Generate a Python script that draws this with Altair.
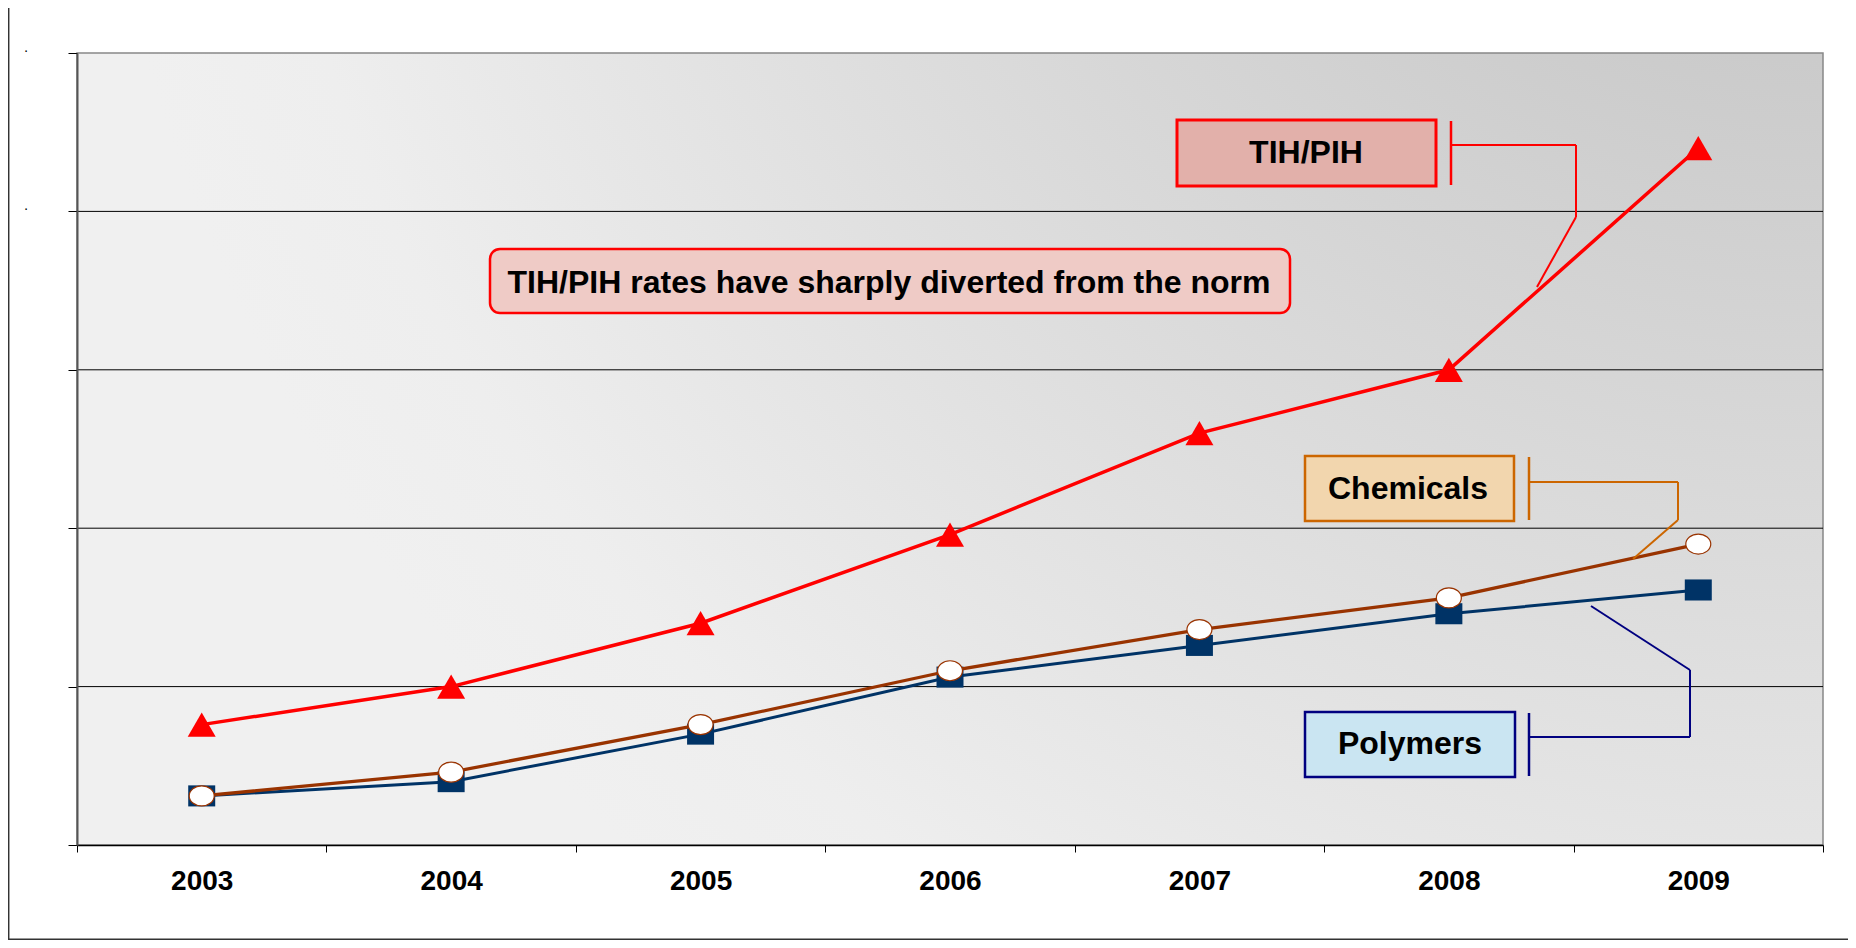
import altair as alt
import pandas as pd

# ---------------- data ----------------
years = ["2003", "2004", "2005", "2006", "2007", "2008", "2009"]
tih_pih = [0.76, 1.00, 1.40, 1.96, 2.60, 3.00, 4.40]
chemicals = [0.31, 0.46, 0.76, 1.10, 1.36, 1.56, 1.90]
polymers = [0.31, 0.40, 0.70, 1.06, 1.26, 1.46, 1.61]
grid_values = [1, 2, 3, 4]
y_ticks = [0, 1, 2, 3, 4, 5]

headline = "TIH/PIH rates have sharply diverted from the norm"
label_tih = "TIH/PIH"
label_chem = "Chemicals"
label_poly = "Polymers"

# ---------------- layout ----------------
W, H = 1746, 792
FONT = "Liberation Sans"

df = pd.DataFrame({
    "year": years * 3,
    "series": ["TIH/PIH"] * 7 + ["Chemicals"] * 7 + ["Polymers"] * 7,
    "value": tih_pih + chemicals + polymers,
})
grid_df = pd.DataFrame({"value": grid_values})
one = pd.DataFrame({"k": [0]})

x_enc = alt.X(
    "year:O",
    bandPosition=0.5,
    scale=alt.Scale(type="band", paddingInner=0, paddingOuter=0),
    axis=alt.Axis(
        title=None, labelAngle=0, tickBand="extent", zindex=1,
        domainColor="#000000", domainWidth=1.5,
        tickColor="#000000", tickSize=7, tickWidth=1,
        labelFont=FONT, labelFontSize=28, labelFontWeight="bold",
        labelColor="#000000", labelPadding=15,
    ),
)
y_enc = alt.Y(
    "value:Q",
    scale=alt.Scale(domain=[0, 5], nice=False, zero=True),
    axis=alt.Axis(
        title=None, values=y_ticks, grid=False, zindex=1,
        domainColor="#555555", domainWidth=2,
        tickColor="#000000", tickSize=9, tickWidth=1,
        labelExpr="datum.value >= 4 ? '\u00b7' : ''",
        labelFont=FONT, labelFontSize=14, labelColor="#000000",
        labelPadding=40, labelOffset=-3,
    ),
)

gradient = alt.RadialGradient(
    gradient="radial",
    x1=1, y1=0, r1=0, x2=1, y2=0, r2=1,
    stops=[
        alt.GradientStop(offset=0, color="#bcbcbc"),
        alt.GradientStop(offset=0.35, color="#cfcfcf"),
        alt.GradientStop(offset=0.65, color="#e0e0e0"),
        alt.GradientStop(offset=0.9, color="#eeeeee"),
        alt.GradientStop(offset=1, color="#f0f0f0"),
    ],
)

background = alt.Chart(one).mark_rect(
    fill=gradient, stroke="#888888", strokeWidth=1.5
).encode(x=alt.value(0), x2=alt.value(W), y=alt.value(0), y2=alt.value(H))

gridlines = alt.Chart(grid_df).mark_rule(color="#000000", strokeWidth=1).encode(y=y_enc)


def series_layers(name, color, width, shape, size, fill, stroke, sw):
    base = alt.Chart(df).transform_filter(alt.datum.series == name)
    line = base.mark_line(color=color, strokeWidth=width).encode(x=x_enc, y=y_enc)
    pts = base.mark_point(
        shape=shape, size=size, filled=True, fill=fill, stroke=stroke,
        strokeWidth=sw, opacity=1,
    ).encode(x=x_enc, y=y_enc)
    return [line, pts]


ellipse = "M-1,0A1,0.8,0,1,0,1,0A1,0.8,0,1,0,-1,0Z"
rect_shape = "M-1,-0.78L1,-0.78L1,0.78L-1,0.78Z"

poly_layers = series_layers("Polymers", "#003366", 3, rect_shape, 729, "#003366", "#003366", 0)
chem_layers = series_layers("Chemicals", "#993300", 3.3, ellipse, 625, "#ffffff", "#993300", 1.2)
tih_layers = series_layers("TIH/PIH", "#ff0000", 3.5, "triangle-up", 784, "#ff0000", "#ff0000", 0)


def seg(x1, y1, x2, y2, color, w=2):
    return alt.Chart(one).mark_rule(color=color, strokeWidth=w).encode(
        x=alt.value(x1), y=alt.value(y1), x2=alt.value(x2), y2=alt.value(y2)
    )


def box(x1, y1, x2, y2, fill, stroke, sw=2.5, radius=0):
    return alt.Chart(one).mark_rect(
        fill=fill, stroke=stroke, strokeWidth=sw, cornerRadius=radius
    ).encode(x=alt.value(x1), x2=alt.value(x2), y=alt.value(y1), y2=alt.value(y2))


def label(x, y, text, size=32):
    return alt.Chart(one).mark_text(
        text=text, font=FONT, fontSize=size, fontWeight="bold", color="#000000",
        align="center", baseline="alphabetic",
    ).encode(x=alt.value(x), y=alt.value(y))


RED = "#ff0000"
ORANGE = "#cc6600"
NAVY = "#000080"

annotations = [
    # headline box
    box(413, 196, 1213, 260, "#efcbc6", RED, 2.5, 10),
    label(812, 240, headline, 32),
    # TIH/PIH label + callout
    box(1100, 67, 1359, 133, "#e2b0aa", RED, 3),
    label(1229, 110, label_tih, 32),
    seg(1374, 68, 1374, 132, RED, 2.5),
    seg(1374, 92, 1499, 92, RED),
    seg(1499, 92, 1499, 164, RED),
    seg(1499, 164, 1460, 234, RED),
    # Chemicals label + callout
    box(1228, 403, 1437, 468, "#f2d6ae", ORANGE, 2.5),
    label(1331, 446, label_chem, 32),
    seg(1452, 404, 1452, 467, ORANGE, 2.5),
    seg(1452, 429, 1601, 429, ORANGE),
    seg(1601, 429, 1601, 467, ORANGE),
    seg(1601, 467, 1556, 506, ORANGE),
    # Polymers label + callout
    box(1228, 659, 1438, 724, "#cae5f2", NAVY, 2.5),
    label(1333, 701, label_poly, 32),
    seg(1452, 660, 1452, 723, NAVY, 2.5),
    seg(1452, 684, 1613, 684, NAVY),
    seg(1613, 684, 1613, 617, NAVY),
    seg(1613, 617, 1514, 553, NAVY),
    # outer frame (left and bottom edges)
    seg(-68.3, -45, -68.3, 887, "#333333", 1.5),
    seg(-69, 886.2, 1771, 886.2, "#333333", 1.5),
]

chart = alt.layer(
    background, gridlines, *poly_layers, *chem_layers, *tih_layers, *annotations
).properties(
    width=W,
    height=H,
    autosize=alt.AutoSizeParams(type="none"),
    padding={"left": 69, "top": 45, "right": 25, "bottom": 95},
    background="#ffffff",
).configure_view(stroke=None)

chart.save("out.html", embed_options={"renderer": "svg", "actions": False})
